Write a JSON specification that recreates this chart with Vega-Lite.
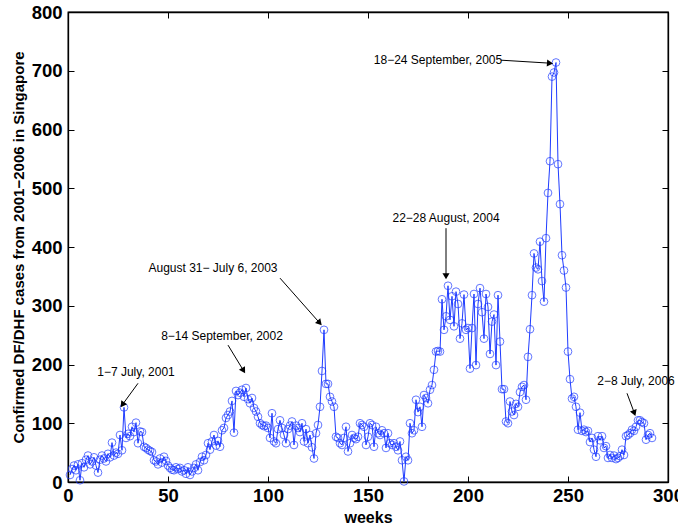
{
  "$schema": "https://vega.github.io/schema/vega-lite/v6.json",
  "autosize": "none",
  "width": 600,
  "height": 470,
  "padding": {"left": 68, "top": 12, "right": 10, "bottom": 43},
  "background": "white",
  "config": {
    "view": {"stroke": "black", "strokeWidth": 1.3},
    "font": "Liberation Sans",
    "axis": {"grid": false, "labelFlush": false, "domainColor": "black", "tickColor": "black", "domainWidth": 1.3, "tickWidth": 1, "labelFont": "Liberation Sans", "labelFontWeight": "bold", "labelFontSize": 18.5, "labelColor": "black", "titleFont": "Liberation Sans", "titleFontWeight": "bold", "titleColor": "black"}
  },
  "datasets": {
    "cases": [
      {"week":1,"cases":12},{"week":2,"cases":22},{"week":3,"cases":28},{"week":4,"cases":20},{"week":5,"cases":30},
      {"week":6,"cases":3},{"week":7,"cases":32},{"week":8,"cases":25},{"week":9,"cases":38},{"week":10,"cases":45},
      {"week":11,"cases":30},{"week":12,"cases":35},{"week":13,"cases":42},{"week":14,"cases":28},{"week":15,"cases":16},
      {"week":16,"cases":38},{"week":17,"cases":45},{"week":18,"cases":40},{"week":19,"cases":35},{"week":20,"cases":48},
      {"week":21,"cases":42},{"week":22,"cases":67},{"week":23,"cases":45},{"week":24,"cases":50},{"week":25,"cases":48},
      {"week":26,"cases":80},{"week":27,"cases":54},{"week":28,"cases":127},{"week":29,"cases":75},{"week":30,"cases":82},
      {"week":31,"cases":78},{"week":32,"cases":94},{"week":33,"cases":85},{"week":34,"cases":101},{"week":35,"cases":66},
      {"week":36,"cases":86},{"week":37,"cases":85},{"week":38,"cases":60},{"week":39,"cases":58},{"week":40,"cases":55},
      {"week":41,"cases":53},{"week":42,"cases":51},{"week":43,"cases":37},{"week":44,"cases":35},{"week":45,"cases":30},
      {"week":46,"cases":40},{"week":47,"cases":33},{"week":48,"cases":43},{"week":49,"cases":36},{"week":50,"cases":28},
      {"week":51,"cases":24},{"week":52,"cases":21},{"week":53,"cases":20},{"week":54,"cases":25},{"week":55,"cases":22},
      {"week":56,"cases":24},{"week":57,"cases":18},{"week":58,"cases":20},{"week":59,"cases":14},{"week":60,"cases":25},
      {"week":61,"cases":12},{"week":62,"cases":18},{"week":63,"cases":24},{"week":64,"cases":30},{"week":65,"cases":20},
      {"week":66,"cases":34},{"week":67,"cases":43},{"week":68,"cases":37},{"week":69,"cases":46},{"week":70,"cases":66},
      {"week":71,"cases":55},{"week":72,"cases":69},{"week":73,"cases":80},{"week":74,"cases":62},{"week":75,"cases":70},
      {"week":76,"cases":60},{"week":77,"cases":88},{"week":78,"cases":92},{"week":79,"cases":109},{"week":80,"cases":114},
      {"week":81,"cases":120},{"week":82,"cases":138},{"week":83,"cases":84},{"week":84,"cases":155},{"week":85,"cases":148},
      {"week":86,"cases":152},{"week":87,"cases":157},{"week":88,"cases":145},{"week":89,"cases":160},{"week":90,"cases":141},
      {"week":91,"cases":134},{"week":92,"cases":143},{"week":93,"cases":126},{"week":94,"cases":120},{"week":95,"cases":111},
      {"week":96,"cases":100},{"week":97,"cases":97},{"week":98,"cases":95},{"week":99,"cases":96},{"week":100,"cases":92},
      {"week":101,"cases":75},{"week":102,"cases":117},{"week":103,"cases":69},{"week":104,"cases":66},{"week":105,"cases":90},
      {"week":106,"cases":105},{"week":107,"cases":92},{"week":108,"cases":80},{"week":109,"cases":66},{"week":110,"cases":90},
      {"week":111,"cases":96},{"week":112,"cases":103},{"week":113,"cases":63},{"week":114,"cases":96},{"week":115,"cases":92},
      {"week":116,"cases":85},{"week":117,"cases":100},{"week":118,"cases":69},{"week":119,"cases":90},{"week":120,"cases":66},
      {"week":121,"cases":80},{"week":122,"cases":59},{"week":123,"cases":40},{"week":124,"cases":83},{"week":125,"cases":97},
      {"week":126,"cases":128},{"week":127,"cases":189},{"week":128,"cases":259},{"week":129,"cases":167},{"week":130,"cases":167},
      {"week":131,"cases":145},{"week":132,"cases":137},{"week":133,"cases":128},{"week":134,"cases":77},{"week":135,"cases":75},
      {"week":136,"cases":66},{"week":137,"cases":63},{"week":138,"cases":75},{"week":139,"cases":94},{"week":140,"cases":52},
      {"week":141,"cases":66},{"week":142,"cases":80},{"week":143,"cases":75},{"week":144,"cases":73},{"week":145,"cases":77},
      {"week":146,"cases":100},{"week":147,"cases":97},{"week":148,"cases":94},{"week":149,"cases":63},{"week":150,"cases":77},
      {"week":151,"cases":100},{"week":152,"cases":97},{"week":153,"cases":60},{"week":154,"cases":94},{"week":155,"cases":83},
      {"week":156,"cases":80},{"week":157,"cases":88},{"week":158,"cases":83},{"week":159,"cases":58},{"week":160,"cases":83},
      {"week":161,"cases":66},{"week":162,"cases":63},{"week":163,"cases":66},{"week":164,"cases":60},{"week":165,"cases":54},
      {"week":166,"cases":69},{"week":167,"cases":37},{"week":168,"cases":1},{"week":169,"cases":43},{"week":170,"cases":37},
      {"week":171,"cases":100},{"week":172,"cases":83},{"week":173,"cases":88},{"week":174,"cases":140},{"week":175,"cases":119},
      {"week":176,"cases":128},{"week":177,"cases":94},{"week":178,"cases":148},{"week":179,"cases":143},{"week":180,"cases":134},
      {"week":181,"cases":157},{"week":182,"cases":165},{"week":183,"cases":191},{"week":184,"cases":222},{"week":185,"cases":223},
      {"week":186,"cases":222},{"week":187,"cases":311},{"week":188,"cases":259},{"week":189,"cases":282},{"week":190,"cases":334},
      {"week":191,"cases":276},{"week":192,"cases":316},{"week":193,"cases":265},{"week":194,"cases":324},{"week":195,"cases":303},
      {"week":196,"cases":244},{"week":197,"cases":270},{"week":198,"cases":319},{"week":199,"cases":259},{"week":200,"cases":262},
      {"week":201,"cases":193},{"week":202,"cases":262},{"week":203,"cases":320},{"week":204,"cases":199},{"week":205,"cases":303},
      {"week":206,"cases":330},{"week":207,"cases":289},{"week":208,"cases":244},{"week":209,"cases":320},{"week":210,"cases":298},
      {"week":211,"cases":218},{"week":212,"cases":273},{"week":213,"cases":285},{"week":214,"cases":199},{"week":215,"cases":318},
      {"week":216,"cases":239},{"week":217,"cases":158},{"week":218,"cases":158},{"week":219,"cases":103},{"week":220,"cases":100},
      {"week":221,"cases":137},{"week":222,"cases":120},{"week":223,"cases":114},{"week":224,"cases":133},{"week":225,"cases":128},
      {"week":226,"cases":153},{"week":227,"cases":162},{"week":228,"cases":165},{"week":229,"cases":140},{"week":230,"cases":213},
      {"week":231,"cases":260},{"week":232,"cases":318},{"week":233,"cases":389},{"week":234,"cases":365},{"week":235,"cases":362},
      {"week":236,"cases":409},{"week":237,"cases":342},{"week":238,"cases":307},{"week":239,"cases":415},{"week":240,"cases":492},
      {"week":241,"cases":546},{"week":242,"cases":690},{"week":243,"cases":697},{"week":244,"cases":714},{"week":245,"cases":541},
      {"week":246,"cases":473},{"week":247,"cases":386},{"week":248,"cases":360},{"week":249,"cases":331},{"week":250,"cases":222},
      {"week":251,"cases":175},{"week":252,"cases":142},{"week":253,"cases":145},{"week":254,"cases":128},{"week":255,"cases":89},
      {"week":256,"cases":118},{"week":257,"cases":87},{"week":258,"cases":89},{"week":259,"cases":85},{"week":260,"cases":87},
      {"week":261,"cases":68},{"week":262,"cases":75},{"week":263,"cases":55},{"week":264,"cases":43},{"week":265,"cases":78},
      {"week":266,"cases":71},{"week":267,"cases":78},{"week":268,"cases":58},{"week":269,"cases":61},{"week":270,"cases":41},
      {"week":271,"cases":46},{"week":272,"cases":41},{"week":273,"cases":45},{"week":274,"cases":39},{"week":275,"cases":41},
      {"week":276,"cases":44},{"week":277,"cases":55},{"week":278,"cases":46},{"week":279,"cases":78},{"week":280,"cases":80},
      {"week":281,"cases":83},{"week":282,"cases":89},{"week":283,"cases":87},{"week":284,"cases":94},{"week":285,"cases":105},
      {"week":286,"cases":105},{"week":287,"cases":102},{"week":288,"cases":100},{"week":289,"cases":72},{"week":290,"cases":80},
      {"week":291,"cases":83},{"week":292,"cases":75}
    ],
    "notes": [
      {"label":"1−7 July, 2001","tx":34,"ty":187,"x1":35,"y1":168,"x2":27.5,"y2":133},
      {"label":"8−14 September, 2002","tx":77,"ty":249,"x1":80,"y1":233,"x2":87.5,"y2":191},
      {"label":"August 31− July 6, 2003","tx":72.5,"ty":364,"x1":106,"y1":347,"x2":125.5,"y2":272},
      {"label":"22−28 August, 2004","tx":189,"ty":449,"x1":189,"y1":432,"x2":189,"y2":352},
      {"label":"18−24 September, 2005","tx":185,"ty":718,"x1":216.5,"y1":718,"x2":240.5,"y2":713},
      {"label":"2−8 July, 2006","tx":284,"ty":172,"x1":279.5,"y1":151,"x2":283,"y2":119}
    ]
  },
  "resolve": {"axis": {"x": "independent", "y": "independent"}},
  "layer": [
    {
      "data": {"name": "cases"},
      "mark": {"type": "line", "color": "#1f3cff", "strokeWidth": 1},
      "encoding": {
        "x": {"field": "week", "type": "quantitative", "scale": {"domain": [0, 300], "nice": false},
              "axis": {"values": [0,50,100,150,200,250,300], "tickSize": -6, "labelPadding": 10, "title": "weeks", "titleFontSize": 16, "titlePadding": 5}},
        "y": {"field": "cases", "type": "quantitative", "scale": {"domain": [0, 800], "nice": false},
              "axis": {"values": [0,100,200,300,400,500,600,700,800], "tickSize": -6, "labelPadding": 12, "title": "Confirmed DF/DHF cases from 2001−2006 in Singapore", "titleFontSize": 15, "titlePadding": 5}}
      }
    },
    {
      "data": {"name": "cases"},
      "mark": {"type": "point", "shape": "circle", "filled": false, "color": "#1f3cff", "size": 60, "strokeWidth": 1},
      "encoding": {
        "x": {"field": "week", "type": "quantitative", "scale": {"domain": [0, 300], "nice": false},
              "axis": {"orient": "top", "values": [0,50,100,150,200,250,300], "tickSize": -6, "labels": false, "title": null}},
        "y": {"field": "cases", "type": "quantitative", "scale": {"domain": [0, 800], "nice": false},
              "axis": {"orient": "right", "values": [0,100,200,300,400,500,600,700,800], "tickSize": -6, "labels": false, "title": null}}
      }
    },
    {
      "data": {"name": "notes"},
      "mark": {"type": "rule", "color": "black", "strokeWidth": 1},
      "encoding": {
        "x": {"field": "x1", "type": "quantitative", "axis": null},
        "y": {"field": "y1", "type": "quantitative", "axis": null},
        "x2": {"field": "x2"},
        "y2": {"field": "y2"}
      }
    },
    {
      "data": {"name": "notes"},
      "mark": {"type": "text", "fontSize": 12, "color": "black", "font": "Liberation Sans"},
      "encoding": {
        "x": {"field": "tx", "type": "quantitative", "axis": null},
        "y": {"field": "ty", "type": "quantitative", "axis": null},
        "text": {"field": "label"}
      }
    },
    {
      "data": {"name": "notes"},
      "transform": [{"filter": "datum.label === '1−7 July, 2001'"}],
      "mark": {"type": "point", "shape": "triangle", "filled": true, "color": "black", "size": 50, "angle": 215, "opacity": 1},
      "encoding": {"x": {"field": "x2", "type": "quantitative", "axis": null}, "y": {"field": "y2", "type": "quantitative", "axis": null}}
    },
    {
      "data": {"name": "notes"},
      "transform": [{"filter": "datum.label === '8−14 September, 2002'"}],
      "mark": {"type": "point", "shape": "triangle", "filled": true, "color": "black", "size": 50, "angle": 149, "opacity": 1},
      "encoding": {"x": {"field": "x2", "type": "quantitative", "axis": null}, "y": {"field": "y2", "type": "quantitative", "axis": null}}
    },
    {
      "data": {"name": "notes"},
      "transform": [{"filter": "datum.label === 'August 31− July 6, 2003'"}],
      "mark": {"type": "point", "shape": "triangle", "filled": true, "color": "black", "size": 50, "angle": 138, "opacity": 1},
      "encoding": {"x": {"field": "x2", "type": "quantitative", "axis": null}, "y": {"field": "y2", "type": "quantitative", "axis": null}}
    },
    {
      "data": {"name": "notes"},
      "transform": [{"filter": "datum.label === '22−28 August, 2004'"}],
      "mark": {"type": "point", "shape": "triangle", "filled": true, "color": "black", "size": 50, "angle": 180, "opacity": 1},
      "encoding": {"x": {"field": "x2", "type": "quantitative", "axis": null}, "y": {"field": "y2", "type": "quantitative", "axis": null}}
    },
    {
      "data": {"name": "notes"},
      "transform": [{"filter": "datum.label === '18−24 September, 2005'"}],
      "mark": {"type": "point", "shape": "triangle", "filled": true, "color": "black", "size": 50, "angle": 94, "opacity": 1},
      "encoding": {"x": {"field": "x2", "type": "quantitative", "axis": null}, "y": {"field": "y2", "type": "quantitative", "axis": null}}
    },
    {
      "data": {"name": "notes"},
      "transform": [{"filter": "datum.label === '2−8 July, 2006'"}],
      "mark": {"type": "point", "shape": "triangle", "filled": true, "color": "black", "size": 50, "angle": 160, "opacity": 1},
      "encoding": {"x": {"field": "x2", "type": "quantitative", "axis": null}, "y": {"field": "y2", "type": "quantitative", "axis": null}}
    }
  ]
}
